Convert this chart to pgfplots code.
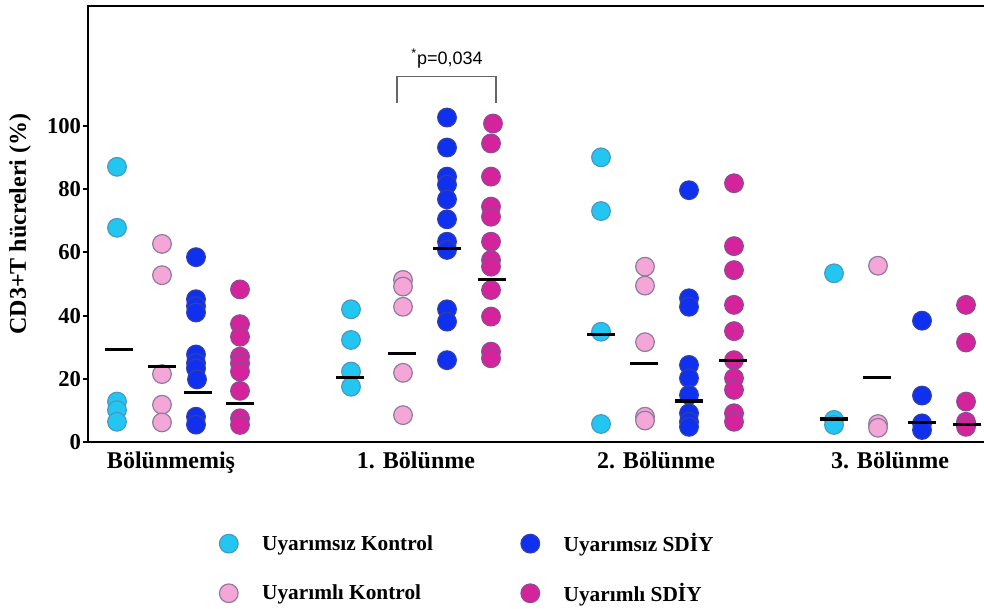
\documentclass[border=0pt]{standalone}
\usepackage{pgfplots}
\pgfplotsset{compat=1.18}
\usepackage{fontspec}
\setmainfont{Liberation Serif}
\newfontfamily\sansf{Liberation Sans}
\definecolor{cyanF}{HTML}{22C6F0}
\definecolor{cyanE}{HTML}{4A98C4}
\definecolor{pinkF}{HTML}{F4A6D6}
\definecolor{pinkE}{HTML}{8E7BA0}
\definecolor{blueF}{HTML}{1030F0}
\definecolor{blueE}{HTML}{3040A8}
\definecolor{magF}{HTML}{D4239B}
\definecolor{magE}{HTML}{8A4E96}

\pgfplotstableread{
x y
117 87.1
117 67.8
117 12.8
117 10.1
117 6.4
351 42.0
351 32.3
351 22.3
351 17.5
601 90.1
601 73.1
601 34.9
601 5.7
834 53.4
834 7.0
834 5.4
}\cyandata

\pgfplotstableread{
x y
162 62.7
162 52.8
162 21.5
162 11.8
162 6.2
403 51.3
403 49.2
403 42.8
403 21.9
403 8.5
645 55.5
645 49.5
645 31.6
645 8.0
645 6.8
878 55.8
878 5.7
878 4.5
}\pinkdata

\pgfplotstableread{
x y
196 58.5
196 45.2
196 43.0
196 41.0
196 27.7
196 25.0
196 23.3
197 19.8
196 8.0
196 5.5
447 102.7
447 93.2
447 84.0
447 81.5
447 76.8
447 70.5
447 63.4
447 60.8
447 42.0
447 38.1
447 25.9
689 79.7
689 45.5
689 42.8
689 24.4
689 20.2
689 14.9
689 9.1
689 6.4
689 4.8
922 38.4
922 14.7
922 5.9
922 3.8
}\bluedata

\pgfplotstableread{
x y
240 48.3
240 37.3
240 33.3
240 27.0
240 24.9
240 22.3
240 16.2
240 7.5
240 5.4
493 100.8
491 94.5
491 84.0
491 74.5
491 71.3
491 63.4
491 57.6
491 55.5
491 48.1
491 39.7
491 28.6
491 26.5
734 81.9
734 62.0
734 54.4
734 43.4
734 35.1
734 25.9
734 20.2
734 16.5
734 9.1
734 6.4
966 43.4
966 31.5
966 12.8
966 6.4
966 4.8
}\magdata

\pgfplotstableread{
x y
119 29.3
162 24.0
198 15.6
240 12.2
350 20.4
402 28.1
447 61.3
492 51.5
601 34.1
644 24.9
689 13.0
733 25.9
834 7.3
877 20.5
922 6.1
967 5.6
}\meandata

\begin{document}
\begin{tikzpicture}
\useasboundingbox (0,0) rectangle (738pt,456pt);
\begin{axis}[
  at={(66pt,124.5pt)}, anchor=south west,
  scale only axis, width=676.5pt, height=327pt,
  xmin=88, xmax=990, ymin=0, ymax=138,
  clip=false,
  axis line style={line width=1.8pt},
  tick align=outside, tick pos=left,
  major tick length=4pt,
  every tick/.style={line width=1.5pt, black},
  ytick={0,20,40,60,80,100},
  xtick={171,416,656,890},
  xticklabels={Bölünmemiş, 1. Bölünme, 2. Bölünme, 3. Bölünme},
  x tick style={draw=none},
  /pgf/number format/assume math mode=true,
  yticklabel style={font=\fontsize{17}{20}\selectfont\bfseries, inner sep=1pt},
  xticklabel style={font=\fontsize{18}{21}\selectfont\bfseries},
  ylabel={CD3+T hücreleri (\%)},
  ylabel style={font=\fontsize{18}{21}\selectfont\bfseries, at={(axis description cs:-0.0754,0.5)}, anchor=center},
  legend columns=2, transpose legend,
  legend cell align=left,
  legend style={draw=none, fill=none, at={(axis description cs:0.141,-0.197)}, anchor=north west,
    font=\fontsize{16}{19}\selectfont\bfseries, row sep=18pt,
    /tikz/every odd column/.append style={column sep=16pt},
    /tikz/every even column/.append style={column sep=64pt}},
]
\addplot[only marks, mark=*, mark size=7pt, mark options={fill=cyanF, draw=cyanE, line width=0.9pt}] table[x=x,y=y] {\cyandata};
\addlegendentry{Uyarımsız Kontrol}
\addplot[only marks, mark=*, mark size=7pt, mark options={fill=pinkF, draw=pinkE, line width=0.9pt}] table[x=x,y=y] {\pinkdata};
\addlegendentry{Uyarımlı Kontrol}
\addplot[only marks, mark=*, mark size=7pt, mark options={fill=blueF, draw=blueE, line width=0.9pt}] table[x=x,y=y] {\bluedata};
\addlegendentry{Uyarımsız SDİY}
\addplot[only marks, mark=*, mark size=7pt, mark options={fill=magF, draw=magE, line width=0.9pt}] table[x=x,y=y] {\magdata};
\addlegendentry{Uyarımlı SDİY}
\addplot[forget plot, only marks, mark=-, mark size=10.5pt, mark options={draw=black, line width=2.4pt}] table[x=x,y=y] {\meandata};
\draw[gray!80!black, line width=0.8pt] (axis cs:397,107.3) -- (axis cs:397,115.6) -- (axis cs:496,115.6) -- (axis cs:496,107.3);
\node[font=\sansf\fontsize{13.5}{16}\selectfont] at (axis cs:447,121.4) {\textsuperscript{*}p=0,034};
\end{axis}
\end{tikzpicture}
\end{document}
